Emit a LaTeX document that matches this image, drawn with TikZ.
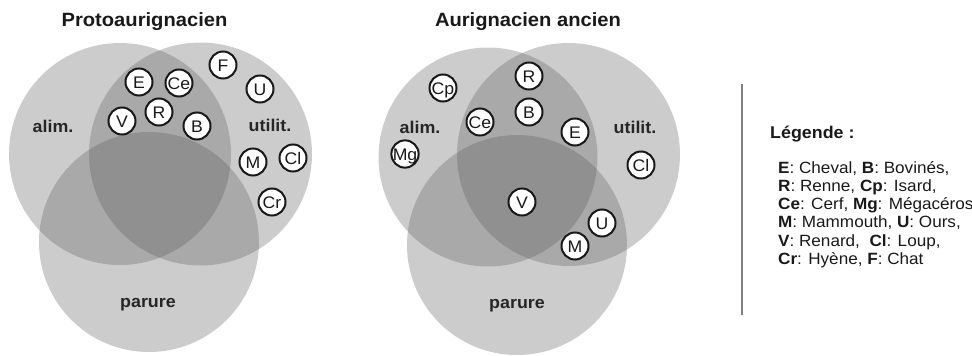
\documentclass[tikz,border=0pt]{standalone}
\usepackage{fontspec}
\setmainfont[FakeStretch=1.05]{Liberation Sans}
\begin{document}
\begin{tikzpicture}[x=1pt,y=-1pt,
  big/.style={fill=black!66, fill opacity=0.3, draw=none},
  sp/.style={circle, draw=black!90, line width=2pt, fill=white, minimum size=27pt, inner sep=0pt,
    font=\fontsize{16.8}{17}\selectfont, text height=12pt, text depth=0pt, text=black!90},
  ttl/.style={font=\fontsize{19.2}{20}\selectfont\bfseries, anchor=base, text=black!90},
  lab/.style={font=\fontsize{17}{18}\selectfont\bfseries, anchor=base, text=black!85},
  leg/.style={font=\fontsize{16.3}{18}\selectfont, anchor=base west, text=black!90, inner sep=0pt},
  legt/.style={font=\fontsize{17}{18}\selectfont\bfseries, anchor=base west, text=black!90, inner sep=0pt}]
\useasboundingbox (0,0) rectangle (972,356);
% --- left Venn
\fill[big] (120,154) circle[radius=111];
\fill[big] (200.5,154) circle[radius=111.5];
\fill[big] (149,242) circle[radius=110];
\node[ttl] (t1) at (144.5,26) {Protoaurignacien};
\node[lab] (a1) at (53,132) {alim.};
\node[lab] (u1) at (270,131) {utilit.};
\node[lab] (p1) at (148,307) {parure};
\node[sp] (lE)  at (139,82)  {E};
\node[sp] (lCe) at (179,83)  {Ce};
\node[sp] (lF)  at (223,65)  {F};
\node[sp] (lU)  at (260,89)  {U};
\node[sp] (lV)  at (122,121) {V};
\node[sp] (lR)  at (159,112) {R};
\node[sp] (lB)  at (197,126) {B};
\node[sp] (lM)  at (253,162) {M};
\node[sp] (lCl) at (293,158) {Cl};
\node[sp] (lCr) at (272,202) {Cr};
% --- right Venn
\fill[big] (488,157) circle[radius=109.5];
\fill[big] (568.5,154.5) circle[radius=111.5];
\fill[big] (517,245) circle[radius=110];
\node[ttl] (t2) at (528,26) {Aurignacien ancien};
\node[lab] (a2) at (420,133) {alim.};
\node[lab] (u2) at (635,133) {utilit.};
\node[lab] (p2) at (517,308) {parure};
\node[sp] (rR)  at (529,76)  {R};
\node[sp] (rCp) at (443,88)  {Cp};
\node[sp] (rB)  at (529,112) {B};
\node[sp] (rCe) at (480,122) {Ce};
\node[sp] (rE)  at (575,132) {E};
\node[sp] (rMg) at (405,154) {Mg};
\node[sp] (rCl) at (641,165) {Cl};
\node[sp] (rV)  at (522,202) {V};
\node[sp] (rU)  at (602,223) {U};
\node[sp] (rM)  at (575,246) {M};
% --- legend
\coordinate (s1) at (742,84);
\coordinate (s2) at (742,315);
\draw[line width=1.4pt, black!50] (s1) -- (s2);
\node[legt] (lg0) at (770,138) {Légende :};
\node[leg] (lg1) at (778,173) {\textbf{E}: Cheval, \textbf{B}: Bovinés,};
\node[leg] (lg2) at (778,191.3) {\textbf{R}: Renne, \textbf{Cp}: Isard,};
\node[leg] (lg3) at (778,209.6) {\textbf{Ce}: Cerf, \textbf{Mg}: Mégacéros};
\node[leg] (lg4) at (778,227.9) {\textbf{M}: Mammouth, \textbf{U}: Ours,};
\node[leg] (lg5) at (778,246.2) {\textbf{V}: Renard,\ \ \textbf{Cl}: Loup,};
\node[leg] (lg6) at (778,264.5) {\textbf{Cr}: Hyène, \textbf{F}: Chat};
\end{tikzpicture}
\end{document}
